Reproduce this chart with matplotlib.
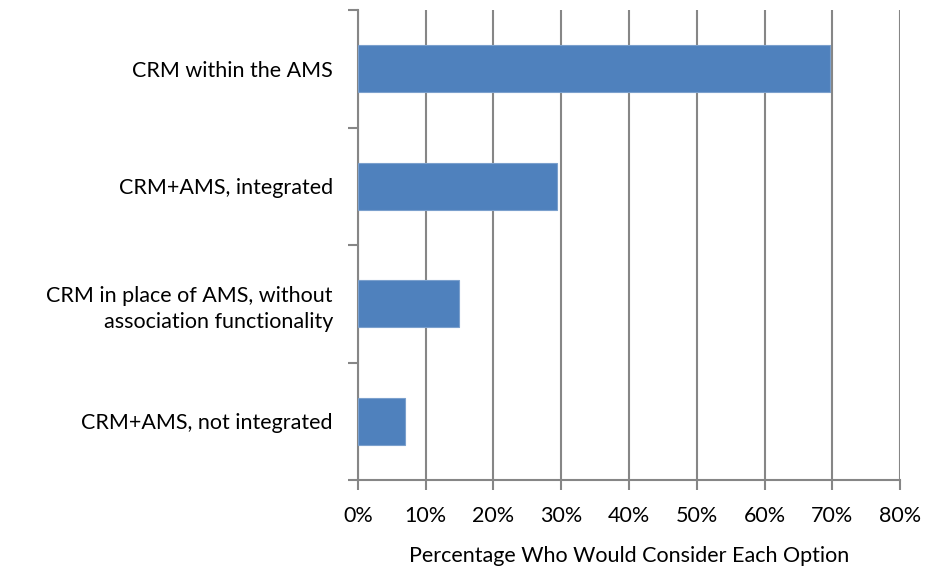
import matplotlib
matplotlib.use("Agg")
import matplotlib.pyplot as plt
import numpy as np
from matplotlib.ticker import FixedLocator, PercentFormatter

# Dados (de baixo para cima, como no gráfico)
categorias = ["CRM+AMS, not integrated",
              "CRM in place of AMS, without\nassociation functionality",
              "CRM+AMS, integrated",
              "CRM within the AMS"]
valores = [6.9, 14.9, 29.3, 69.7]
xticks = [0, 10, 20, 30, 40, 50, 60, 70, 80]

plt.rcParams["font.family"] = ["Lato", "DejaVu Sans"]
GRID = "#868686"
FS = 15.5

fig = plt.figure(figsize=(9.25, 5.66), dpi=100)
ax = fig.add_axes([0.387, 0.152, 0.586, 0.830])

y = np.arange(len(categorias))
ax.barh(y, valores, height=0.4, color="#4F81BD", edgecolor="#7BA0CD",
        linewidth=0.8, zorder=3)

ax.set_xlim(0, 80)
ax.set_ylim(-0.5, len(categorias) - 0.5)
ax.set_xticks(xticks)
ax.xaxis.set_major_formatter(PercentFormatter(decimals=0))
ax.grid(axis="x", color=GRID, linewidth=1.5, zorder=0)

ax.set_yticks(y)
ax.set_yticklabels(categorias, fontsize=FS, linespacing=1.4)
ax.yaxis.set_minor_locator(FixedLocator(np.arange(-0.5, len(categorias), 1.0)))
ax.tick_params(axis="y", which="major", length=0, pad=18)
ax.tick_params(axis="y", which="minor", length=7, width=1.5, color=GRID,
               direction="out")
ax.tick_params(axis="x", length=7, width=1.5, color=GRID, direction="out",
               labelsize=FS, pad=12)

for lado in ["top", "right"]:
    ax.spines[lado].set_visible(False)
for lado in ["left", "bottom"]:
    ax.spines[lado].set_color(GRID)
    ax.spines[lado].set_linewidth(1.5)

ax.set_xlabel("Percentage Who Would Consider Each Option", fontsize=FS,
              labelpad=14)

fig.savefig("out.png", dpi=100)
